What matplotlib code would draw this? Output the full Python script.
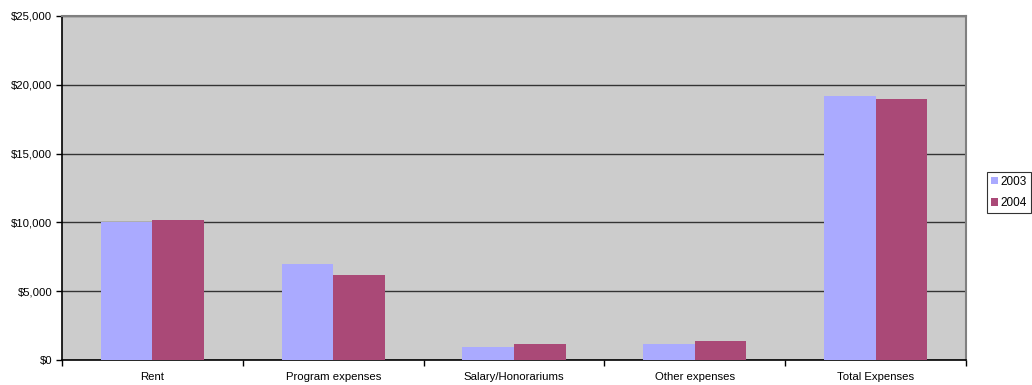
import matplotlib.pyplot as plt
import numpy as np
from matplotlib.ticker import FuncFormatter, FixedLocator

plt.rcParams['font.family'] = ['Liberation Sans', 'DejaVu Sans']

categorias = ["Rent", "Program expenses", "Salary/Honorariums", "Other expenses", "Total Expenses"]
gastos_2003 = [10000, 7000, 950, 1160, 19200]
gastos_2004 = [10200, 6200, 1160, 1380, 19000]

fig = plt.figure(figsize=(10.32, 3.85), dpi=100)
ax = fig.add_axes([62/1032, 25/385, 904/1032, 344/385])
ax.set_facecolor("#CCCCCC")

x = np.arange(len(categorias))
w = 1/3.5
ax.bar(x - w/2, gastos_2003, w, color="#AAAAFF", label="2003", zorder=3)
ax.bar(x + w/2, gastos_2004, w, color="#AA4977", label="2004", zorder=3)

ax.set_xlim(-0.5, len(categorias) - 0.5)
ax.set_ylim(0, 25000)
ax.set_yticks(range(0, 25001, 5000))
ax.yaxis.set_major_formatter(FuncFormatter(lambda v, pos: "${:,.0f}".format(v)))
ax.yaxis.grid(True, color="#333333", linewidth=1, zorder=1)

ax.set_xticks(x)
ax.set_xticklabels(categorias)
ax.xaxis.set_minor_locator(FixedLocator(np.arange(-0.5, len(categorias), 1)))
ax.tick_params(axis="x", which="major", length=0, labelsize=8.2, pad=9)
ax.tick_params(axis="x", which="minor", length=4, direction="out", width=1)
ax.tick_params(axis="y", length=4, width=1, labelsize=8.2, pad=3)

for s in ["left", "bottom"]:
    ax.spines[s].set_color("black")
    ax.spines[s].set_linewidth(1.2)
for s in ["top", "right"]:
    ax.spines[s].set_color("#808080")
    ax.spines[s].set_linewidth(1.5)

leg = fig.legend(loc="center left", bbox_to_anchor=(987/1032, 0.5), fontsize=8.5,
                 frameon=True, fancybox=False, handlelength=0.6, handleheight=0.6,
                 handletextpad=0.2, borderpad=0.35, labelspacing=0.8, borderaxespad=0)
leg.get_frame().set_edgecolor("black")
leg.get_frame().set_linewidth(0.8)

plt.savefig("out.png", dpi=100)
plt.close()
